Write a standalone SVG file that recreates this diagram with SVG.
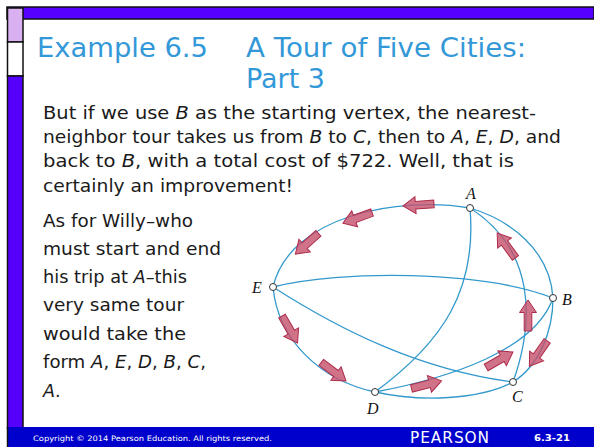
<svg xmlns="http://www.w3.org/2000/svg" xmlns:xlink="http://www.w3.org/1999/xlink" width="594" height="447" viewBox="0 0 594 447">
<style>
.title{font-family:"DejaVu Sans","Liberation Sans",sans-serif;font-size:26px;fill:#3398D8}
.body{font-family:"DejaVu Sans","Liberation Sans",sans-serif;font-size:17.5px;fill:#1a1a1a}
.it{font-style:italic}
.edge{fill:none;stroke:#3399CC;stroke-width:1.3}
.node{fill:#fff;stroke:#333;stroke-width:1}
.lbl{font-family:"Liberation Serif",serif;font-style:italic;font-size:16px;fill:#111}
.arr{fill:#C4506A;fill-opacity:0.8;stroke:#AE2C4B;stroke-width:1}
.foot{font-family:"DejaVu Sans","Liberation Sans",sans-serif;fill:#fff}
</style>
<defs>
<polygon id="arw" points="-16,-3.8 2.5,-3.8 2.5,-8.5 15,0 2.5,8.5 2.5,3.8 -16,3.8"/>
</defs>
<rect x="0" y="0" width="594" height="447" fill="#fff"/>
<!-- frame -->
<g id="frame">
<rect x="7" y="7" width="587" height="12" fill="#5500FF" stroke="#111" stroke-width="1.5"/>
<rect x="7.5" y="8" width="15.5" height="34" fill="#D9B0F2" stroke="#111" stroke-width="1.5"/>
<rect x="7.5" y="42" width="15.5" height="34" fill="#fff" stroke="#111" stroke-width="1.5"/>
<rect x="7.5" y="76" width="15.5" height="352" fill="#5500FF" stroke="#111" stroke-width="1.5"/>
<rect x="7" y="427" width="587" height="20" fill="#0000CC"/>
<line x1="7.5" y1="427" x2="7.5" y2="447" stroke="#111" stroke-width="1.5"/>
</g>
<!-- title -->
<g id="title">
<text class="title" x="37" y="57" textLength="171" lengthAdjust="spacingAndGlyphs">Example 6.5</text>
<text class="title" x="246" y="57" textLength="280" lengthAdjust="spacingAndGlyphs">A Tour of Five Cities:</text>
<text class="title" x="246" y="88" textLength="79" lengthAdjust="spacingAndGlyphs">Part 3</text>
</g>
<!-- body text -->
<g id="body">
<text class="body" x="43" y="119" textLength="493" lengthAdjust="spacingAndGlyphs">But if we use <tspan class="it">B</tspan> as the starting vertex, the nearest-</text>
<text class="body" x="43" y="143" textLength="518" lengthAdjust="spacingAndGlyphs">neighbor tour takes us from <tspan class="it">B</tspan> to <tspan class="it">C</tspan>, then to <tspan class="it">A</tspan>, <tspan class="it">E</tspan>, <tspan class="it">D</tspan>, and</text>
<text class="body" x="43" y="167" textLength="471" lengthAdjust="spacingAndGlyphs">back to <tspan class="it">B</tspan>, with a total cost of $722. Well, that is</text>
<text class="body" x="43" y="192" textLength="250" lengthAdjust="spacingAndGlyphs">certainly an improvement!</text>
<text class="body" x="43" y="227" textLength="150" lengthAdjust="spacingAndGlyphs">As for Willy–who</text>
<text class="body" x="43" y="255" textLength="178" lengthAdjust="spacingAndGlyphs">must start and end</text>
<text class="body" x="43" y="283" textLength="144" lengthAdjust="spacingAndGlyphs">his trip at <tspan class="it">A</tspan>–this</text>
<text class="body" x="43" y="311" textLength="141" lengthAdjust="spacingAndGlyphs">very same tour</text>
<text class="body" x="43" y="340" textLength="143" lengthAdjust="spacingAndGlyphs">would take the</text>
<text class="body" x="43" y="368" textLength="163" lengthAdjust="spacingAndGlyphs">form <tspan class="it">A</tspan>, <tspan class="it">E</tspan>, <tspan class="it">D</tspan>, <tspan class="it">B</tspan>, <tspan class="it">C</tspan>,</text>
<text class="body" x="43" y="397"><tspan class="it">A</tspan>.</text>
</g>
<!-- connectors -->
<g id="connectors">
<path class="edge" d="M470,208 C400,196 290,215 273,287"/>
<path class="edge" d="M273,287 C278,340 320,380 375,392"/>
<path class="edge" d="M375,392 C420,402 480,400 513,382"/>
<path class="edge" d="M375,392 C450,378 535,350 553,298"/>
<path class="edge" d="M553,298 C553,330 540,365 513,382"/>
<path class="edge" d="M513,382 C535,320 535,250 470,208"/>
<path class="edge" d="M470,208 C510,220 550,250 553,298"/>
<path class="edge" d="M470,208 C477,290 443,342 375,392"/>
<path class="edge" d="M273,287 C340,270 480,270 553,298"/>
<path class="edge" d="M273,287 C340,330 420,370 513,382"/>
</g>
<g id="tour-arrows">
<use xlink:href="#arw" class="arr" transform="translate(538,354) rotate(125)"/>
<use xlink:href="#arw" class="arr" transform="translate(528,315) rotate(-90)"/>
<use xlink:href="#arw" class="arr" transform="translate(506,245) rotate(-126)"/>
<use xlink:href="#arw" class="arr" transform="translate(418,205) rotate(176)"/>
<use xlink:href="#arw" class="arr" transform="translate(357,218) rotate(160)"/>
<use xlink:href="#arw" class="arr" transform="translate(306.5,244) rotate(138)"/>
<use xlink:href="#arw" class="arr" transform="translate(290,330) rotate(60)"/>
<use xlink:href="#arw" class="arr" transform="translate(334,372) rotate(37)"/>
<use xlink:href="#arw" class="arr" transform="translate(427,384.5) rotate(-14)"/>
<use xlink:href="#arw" class="arr" transform="translate(500,359.5) rotate(-30)"/>
</g>
<g id="node-A"><circle class="node" cx="470" cy="208" r="3.5"/><text class="lbl" x="466" y="199">A</text></g>
<g id="node-B"><circle class="node" cx="553" cy="298" r="3.5"/><text class="lbl" x="562" y="305">B</text></g>
<g id="node-C"><circle class="node" cx="513" cy="382" r="3.5"/><text class="lbl" x="512" y="402">C</text></g>
<g id="node-D"><circle class="node" cx="375" cy="392" r="3.5"/><text class="lbl" x="367" y="414">D</text></g>
<g id="node-E"><circle class="node" cx="273" cy="287" r="3.5"/><text class="lbl" x="252" y="293">E</text></g>
<!-- footer -->
<g id="footer">
<text class="foot" x="33" y="441" font-size="7.5" textLength="239" lengthAdjust="spacingAndGlyphs">Copyright © 2014  Pearson Education. All rights reserved.</text>
<text class="foot" x="410" y="443" font-size="16" letter-spacing="1" textLength="80" lengthAdjust="spacingAndGlyphs">PEARSON</text>
<text class="foot" x="534" y="441" font-size="8.5" font-weight="bold" textLength="36" lengthAdjust="spacingAndGlyphs">6.3-21</text>
</g>
</svg>
